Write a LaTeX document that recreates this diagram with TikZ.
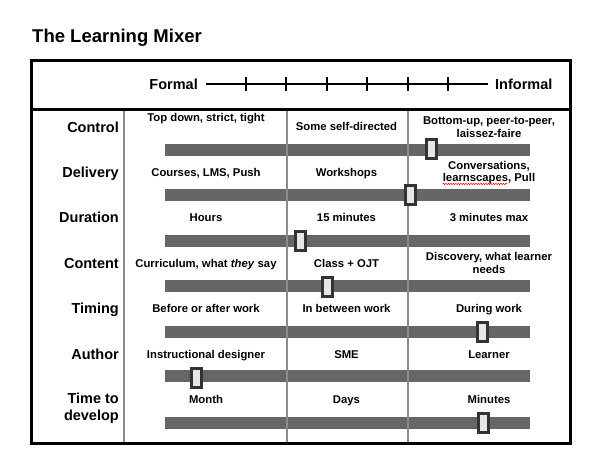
\documentclass[tikz,border=0pt]{standalone}
\usepackage{fontspec}
\setmainfont{Liberation Sans}
\usetikzlibrary{decorations.pathmorphing}
\definecolor{barc}{HTML}{666666}
\definecolor{gridc}{HTML}{8C8C8C}
\definecolor{knobd}{HTML}{333333}
\definecolor{knobf}{HTML}{E6E6E6}
\tikzset{
  ttl/.style={font=\fontsize{18.5}{22}\selectfont\bfseries, anchor=base west, inner sep=0pt},
  hdr/.style={font=\fontsize{14.5}{17}\selectfont\bfseries, inner sep=0pt},
  lbl/.style={font=\fontsize{14.5}{17}\selectfont\bfseries, anchor=base east, inner sep=0pt},
  cell/.style={font=\fontsize{11.3}{13}\selectfont\bfseries, anchor=base, inner sep=0pt},
  barbox/.style={fill=barc, draw=none},
  gridline/.style={draw=gridc, line width=2pt},
  knob/.style={draw=knobd, fill=knobf, line width=3pt, minimum width=10pt, minimum height=19pt, inner sep=0pt},
  scaleline/.style={line width=2pt, black},
}
\begin{document}
\begin{tikzpicture}[x=1pt,y=-1pt]
\useasboundingbox (0,0) rectangle (600,467);
% title
\node[ttl] (title) at (32,42.7) {The Learning Mixer};
% bars
\foreach \n/\y in {bc/149.5,bd/195,bu/240.5,bn/286,bt/331.7,ba/376.3,bv/422.5}{
  \fill[barbox] (165,\y-6) rectangle (530,\y+6);
}
% column lines
\draw[gridline] (124,109.3) -- (124,443.7);
\draw[gridline] (286.5,109.3) -- (286.5,443.7);
\draw[gridline] (407.5,109.3) -- (407.5,443.7);
% outer frame and header line
\draw[line width=3pt] (31.3,60) rectangle (570.3,443.7);
\draw[line width=3pt] (31.3,109.3) -- (570.3,109.3);
% header scale
\node[hdr, anchor=base east] (formal) at (198,89.3) {Formal};
\node[hdr, anchor=base west] (informal) at (495,89.3) {Informal};
\draw[scaleline] ([xshift=8pt]formal.east) -- ([xshift=-7pt]informal.west);
\foreach \x in {245.5,286,326.5,367,407.5,448}{
  \draw[scaleline] (\x,77) -- (\x,91);
}
% row labels
\node[lbl] (lcontrol) at (119,132.5) {Control};
\node[lbl] (ldelivery) at (119,177) {Delivery};
\node[lbl] (lduration) at (119,222) {Duration};
\node[lbl] (lcontent) at (119,268) {Content};
\node[lbl] (ltiming) at (119,313) {Timing};
\node[lbl] (lauthor) at (119,359) {Author};
\node[lbl] (ltime1) at (119,403) {Time to};
\node[lbl] (ltime2) at (119,420.5) {develop};
% Control
\node[cell] (c1) at (206,121) {Top down, strict, tight};
\node[cell] (c2) at (346.5,130.5) {Some self-directed};
\node[cell] (c3a) at (489,124.8) {Bottom-up, peer-to-peer,};
\node[cell] (c3b) at (489,137) {laissez-faire};
% Delivery
\node[cell] (d1) at (206,176) {Courses, LMS, Push};
\node[cell] (d2) at (346.5,176) {Workshops};
\node[cell] (d3a) at (489,169.3) {Conversations,};
\node[cell] (d3b) at (489,181.7) {learnscapes, Pull};
\draw[red, line width=0.5pt, decorate, decoration={snake, amplitude=0.7pt, segment length=2.5pt}]
  ([yshift=-2.2pt]d3b.base west) -- ++(65,0);
% Duration
\node[cell] (u1) at (206,221.7) {Hours};
\node[cell] (u2) at (346.5,221.7) {15 minutes};
\node[cell] (u3) at (489,221.7) {3 minutes max};
% Content
\node[cell] (n1) at (206,267.3) {Curriculum, what \textit{they} say};
\node[cell] (n2) at (346.5,267.3) {Class + OJT};
\node[cell] (n3a) at (489,260) {Discovery, what learner};
\node[cell] (n3b) at (489,273) {needs};
% Timing
\node[cell] (t1) at (206,312.3) {Before or after work};
\node[cell] (t2) at (346.5,312.3) {In between work};
\node[cell] (t3) at (489,312.3) {During work};
% Author
\node[cell] (a1) at (206,358.3) {Instructional designer};
\node[cell] (a2) at (346.5,358.3) {SME};
\node[cell] (a3) at (489,358.3) {Learner};
% Time to develop
\node[cell] (v1) at (206,403.3) {Month};
\node[cell] (v2) at (346.5,403.3) {Days};
\node[cell] (v3) at (489,403.3) {Minutes};
% knobs
\node[knob] (kc) at (431.5,149) {};
\node[knob] (kd) at (410,195) {};
\node[knob] (ku) at (300,241) {};
\node[knob] (kn) at (327.5,286.5) {};
\node[knob] (kt) at (482.5,331.7) {};
\node[knob] (ka) at (196,378) {};
\node[knob] (kv) at (483,423) {};
\end{tikzpicture}
\end{document}
